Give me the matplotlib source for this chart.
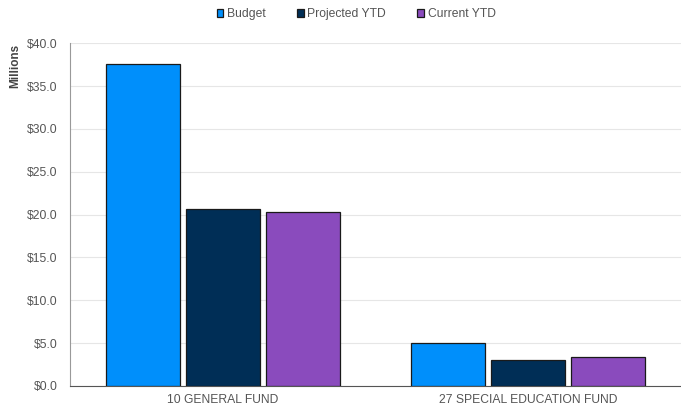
import matplotlib
matplotlib.use("Agg")
import matplotlib.pyplot as plt
import numpy as np

plt.rcParams['font.family'] = ['Liberation Sans', 'DejaVu Sans']

funds = ["10 GENERAL FUND", "27 SPECIAL EDUCATION FUND"]
series = ["Budget", "Projected YTD", "Current YTD"]
budget = [37.55, 5.0]
projected = [20.65, 3.05]
current = [20.3, 3.4]
colors = ["#008FFB", "#002E56", "#8A4BBD"]

fig = plt.figure(figsize=(6.81, 4.11), dpi=100)
ax = fig.add_axes([0.103, 0.061, 0.897, 0.834])

x = np.arange(len(funds))
w = 0.243
step = 0.262
for i, (vals, name) in enumerate(zip([budget, projected, current], series)):
    ax.bar(x + (i - 1) * step, vals, width=w, color=colors[i],
           edgecolor="#1a1a1a", linewidth=0.9, label=name, zorder=3)

ax.set_xlim(-0.5, 1.5)
ax.set_ylim(0, 40)
ax.set_yticks(np.arange(0, 40.1, 5))
ax.set_yticklabels(["$%.1f" % v for v in np.arange(0, 40.1, 5)])
ax.set_xticks(x)
ax.set_xticklabels(funds)
ax.tick_params(axis="both", length=0, labelsize=8.7, colors="#555555")
ax.tick_params(axis="y", pad=9)
ax.tick_params(axis="x", pad=6)
ax.yaxis.grid(True, color="#e6e6e6", linewidth=0.8, zorder=0)
ax.set_axisbelow(True)

for s in ["top", "right"]:
    ax.spines[s].set_visible(False)
ax.spines["left"].set_color("#999999")
ax.spines["bottom"].set_color("#555555")

ax.set_ylabel("Millions", fontsize=8.5, fontweight="bold", color="#444444")
ax.yaxis.set_label_coords(-0.08, 0.933)

leg = fig.legend(loc="center", bbox_to_anchor=(0.523, 0.965), ncol=3, frameon=False,
                 fontsize=8.7, handlelength=0.55, handleheight=0.55, handletextpad=0.3,
                 columnspacing=2.6, labelcolor="#555555")

fig.savefig("out.png", dpi=100)
